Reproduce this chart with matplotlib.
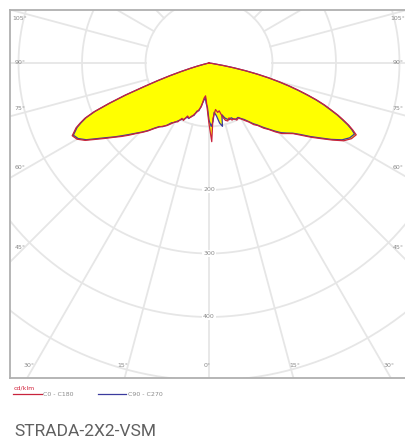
import numpy as np
import matplotlib.pyplot as plt

# photometric data, cd/klm, gamma measured from nadir
gamma = [0, 2, 4, 6, 8, 10, 12, 14, 16, 18, 20, 22, 24, 26, 28, 30, 32, 34, 36, 38,
         40, 42, 44, 46, 48, 50, 52, 54, 56, 58, 60, 62, 64, 65, 66, 67, 68, 69, 70,
         71, 72, 73, 74, 75, 76, 77, 78, 79, 80, 82, 84, 90]

c0 = [96, 124, 88, 80, 74, 79, 77, 87, 94, 96, 92, 97, 96, 100, 98, 102, 107, 112, 120, 125,
      134, 141, 151, 160, 166, 173, 185, 199, 213, 229, 245, 254, 258, 250, 241, 230, 219, 206, 194,
      180, 164, 148, 132, 115, 98, 79, 60, 41, 24, 6, 0, 0]
c180 = [96, 74, 60, 52, 56, 70, 75, 80, 84, 89, 92, 90, 99, 97, 105, 107, 113, 119, 123, 128,
        135, 144, 152, 160, 170, 180, 190, 202, 215, 230, 240, 244, 233, 224, 214, 197, 170, 142, 110,
        87, 66, 47, 31, 19, 9, 4, 0, 0, 0, 0, 0, 0]
c90 = [90, 100, 92, 78, 84, 96, 102, 84, 90, 93, 95, 93, 97, 98, 97, 101, 105, 111, 118, 124,
       132, 140, 149, 158, 165, 172, 183, 197, 211, 227, 242, 251, 255, 248, 239, 228, 217, 204, 192,
       178, 162, 146, 130, 113, 96, 78, 59, 40, 23, 5, 0, 0]
c270 = [90, 70, 64, 55, 60, 68, 77, 78, 86, 88, 93, 92, 97, 99, 103, 108, 111, 118, 124, 127,
        134, 143, 151, 159, 168, 178, 189, 200, 213, 228, 238, 242, 231, 222, 212, 195, 168, 140, 108,
        85, 64, 45, 30, 18, 8, 3, 0, 0, 0, 0, 0, 0]

rings = [100, 200, 300, 400, 500]
ring_labels = [200, 300, 400]
side_angles = [45, 60, 75, 90, 105]
bottom_angles = [0, 15, 30]

grid_col = '#e6e6e6'
lab_col = '#8a8a8a'


def curve(g, right, left):
    g = np.radians(g)
    r = np.asarray(right, float)
    l = np.asarray(left, float)
    x = np.concatenate([-l[::-1] * np.sin(g[::-1]), r * np.sin(g)])
    y = np.concatenate([-l[::-1] * np.cos(g[::-1]), -r * np.cos(g)])
    return x, y


fig = plt.figure(figsize=(4.06, 4.41), dpi=100)
ax = fig.add_axes([10 / 406, 1 - 378 / 441, 397 / 406, 368 / 441])
k = 1.575  # cd/klm per pixel
ax.set_xlim(-199 * k, 198 * k)
ax.set_ylim(-315 * k, 53 * k)
ax.set_xticks([])
ax.set_yticks([])
for s in ax.spines.values():
    s.set_color('#b0b0b0')
    s.set_linewidth(1.3)

# polar grid
t = np.linspace(0, 2 * np.pi, 400)
for r in rings:
    ax.plot(r * np.cos(t), r * np.sin(t), color=grid_col, lw=1.3, zorder=1)
for a in np.radians(np.arange(0, 360, 15)):
    ax.plot([100 * np.sin(a), 800 * np.sin(a)], [-100 * np.cos(a), -800 * np.cos(a)],
            color=grid_col, lw=1.3, zorder=1)
for r in ring_labels:
    ax.text(0, -r, str(r), ha='center', va='center', fontsize=4.5, color=lab_col, zorder=2,
            bbox=dict(fc='white', ec='none', pad=0.6))

# angle labels along the frame
xin = 189 * k
yin = -303 * k
for a in side_angles:
    y = -xin / np.tan(np.radians(a)) if a != 90 else 0
    if a < 90:
        y += 5 * k
    y = min(y, 45 * k)
    for sgn in (-1, 1):
        ax.text(sgn * xin, y, f'{a}°', ha='center', va='center', fontsize=4.5,
                color=lab_col, zorder=2)
for a in bottom_angles:
    x = -yin * np.tan(np.radians(a))
    for sgn in ((-1, 1) if a else (1,)):
        ax.text(sgn * (x + 5 * k) if a else -2 * k, yin, f'{a}°', ha='center', va='center',
                fontsize=4.5, color=lab_col, zorder=2)

# intensity curves
xr, yr = curve(gamma, c0, c180)
xb, yb = curve(gamma, c90, c270)
ax.fill(xr, yr, color='#ffff00', zorder=3, lw=0)
ax.fill(xb, yb, color='#ffff00', zorder=3, lw=0)
lb, = ax.plot(xb, yb, color='#3b3b9e', lw=0.9, zorder=4, label='C90 - C270')
lr, = ax.plot(xr, yr, color='#c8233c', lw=0.9, zorder=5, label='C0 - C180')

leg = fig.legend(handles=[lr, lb], loc='upper left', bbox_to_anchor=(9 / 406, 1 - 381 / 441),
                 ncol=2, frameon=False, fontsize=4.5, title='cd/klm', title_fontsize=4.5,
                 alignment='left', handlelength=4.5, handletextpad=0.2, columnspacing=4,
                 borderpad=0.2, labelspacing=0.2)
leg.get_title().set_color('#d2233c')
for txt in leg.get_texts():
    txt.set_color(lab_col)

fig.text(14 / 406, 1 - 431 / 441, 'STRADA-2X2-VSM', fontsize=12.5, color='#606060',
         family='Roboto', va='center', ha='left')

fig.savefig('out.png', dpi=100)
